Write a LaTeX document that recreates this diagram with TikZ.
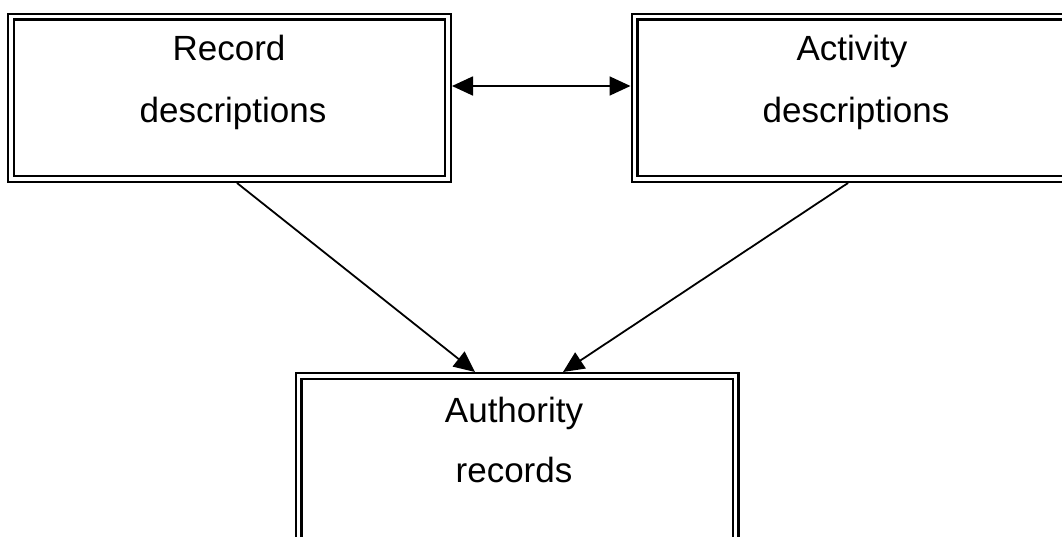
\documentclass[tikz,border=0pt]{standalone}
\usepackage{fontspec}
\setmainfont{Liberation Sans}
\usetikzlibrary{arrows.meta}
\tikzset{
  dbox/.style={draw, double, line width=2.2pt, double distance=3.6pt, outer sep=4pt,
    minimum width=437pt, minimum height=162.5pt, inner sep=0pt, rectangle},
  lbl/.style={anchor=base, inner sep=0pt, font=\fontsize{35}{42}\selectfont},
  tip/.style={Triangle[length=21pt,width=19pt]},
  conn/.style={line width=1.8pt, -{Triangle[length=21pt,width=19pt]}},
  dconn/.style={line width=1.8pt, {Triangle[length=21pt,width=19pt]}-{Triangle[length=21pt,width=19pt]}}
}
\begin{document}
\begin{tikzpicture}[x=1pt,y=-1pt]
\useasboundingbox (0,0) rectangle (1062,536);
\clip (0,0) rectangle (1062,536);
\node[dbox] (rd) at (229.5,97.75) {};
\node[dbox] (ad) at (853,97.75) {};
\node[dbox, minimum height=180pt] (ar) at (517,466) {};
\node[lbl] (rd1) at (229,60) {Record};
\node[lbl] (rd2) at (233,122) {descriptions};
\node[lbl] (ad1) at (852,60) {Activity};
\node[lbl] (ad2) at (856,122) {descriptions};
\node[lbl] (ar1) at (514,422) {Authority};
\node[lbl] (ar2) at (514,482) {records};
\draw[dconn] (rd.east |- 0,86) -- (ad.west |- 0,86);
\draw[conn] (rd.south -| 237,0) -- (ar.north -| 475,0);
\draw[conn] (ad.south -| 848,0) -- (ar.north -| 563,0);
\end{tikzpicture}
\end{document}
